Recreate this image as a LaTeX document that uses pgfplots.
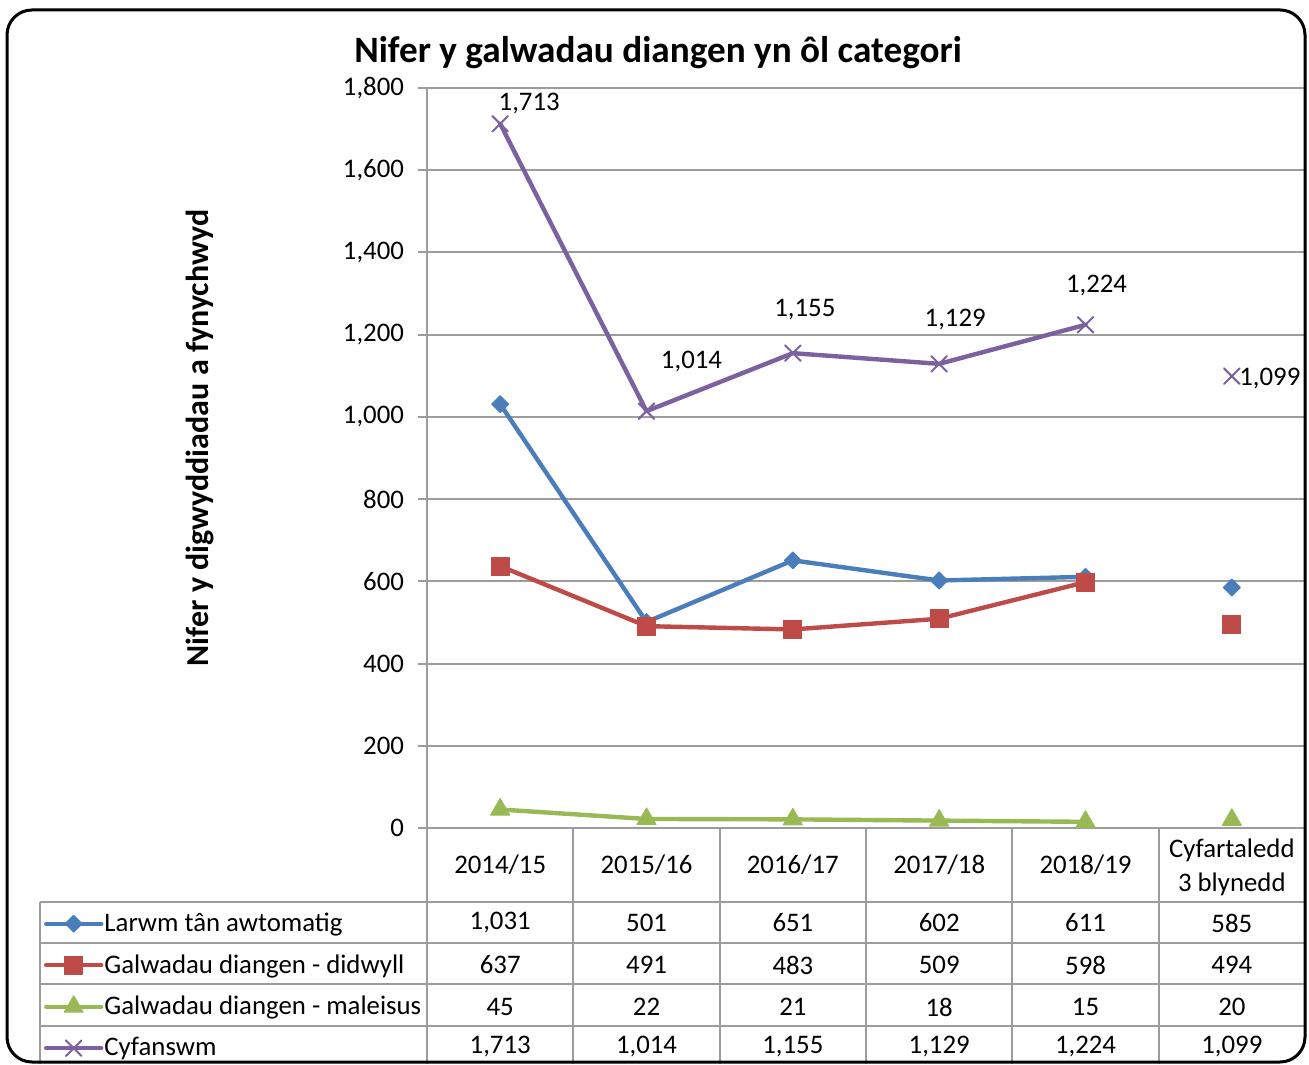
\documentclass[border=0pt]{standalone}
\usepackage{fontspec}
\setmainfont{Carlito}
\usepackage{pgfplots}
\pgfplotsset{compat=1.18}
\definecolor{cblue}{HTML}{4A7EBB}
\definecolor{cred}{HTML}{BE4B48}
\definecolor{cgreen}{HTML}{98B954}
\definecolor{cpurple}{HTML}{7D60A0}
\definecolor{gridgray}{HTML}{9C9C9C}
\newcommand{\tf}{\fontsize{13.4}{17}\selectfont}
\begin{document}
\begin{tikzpicture}[x=0.5pt,y=0.5pt]
\path[use as bounding box] (0,0) rectangle (1309,1064);
\begin{scope}
\clip (0,0) rectangle (1309,1064);
% table lines
\begin{scope}[gridgray, line width=1pt]
\foreach \yy in {162,121,80,38} \draw (40,\yy) -- (1305,\yy);
\draw (40,162) -- (40,0);
\draw (427,236) -- (427,0);
\foreach \xx in {573.3,719.7,866,1012.3,1158.7} \draw (\xx,236) -- (\xx,0);
\end{scope}
\begin{axis}[
  at={(213.5pt,118pt)}, anchor=south west, scale only axis,
  width=439pt, height=370pt,
  xmin=-0.5, xmax=5.5, ymin=0, ymax=1800, ytick distance=200, xtick=\empty,
  axis y line*=left, axis x line*=bottom,
  axis line style={gridgray, line width=1pt, -},
  ymajorgrids, grid style={gridgray, line width=1pt},
  tick style={gridgray, line width=1pt}, major tick length=4.5pt, tick align=outside,
  yticklabel style={font=\tf, xshift=-3.5pt, /pgf/number format/1000 sep={,}},
  /pgf/number format/assume math mode=true,
  clip=false,
  unbounded coords=jump,
  legend cell align=left,
  legend style={at={(-0.4362,-0.1013)}, anchor=north west, draw=none, fill=none,
    inner sep=0pt, outer sep=0pt, row sep=0pt, column sep=0.5pt, font=\tf,
    nodes={inner sep=0pt, minimum height=20.75pt}},
  legend image code/.code={\draw[mark repeat=2,mark phase=2] plot coordinates {(0pt,0pt)(13.75pt,0pt)(27.5pt,0pt)};},
]
\addplot[cblue, line width=2.2pt, line join=round, line cap=round, mark=square*, mark size=3pt, mark options={rotate=45, solid, line width=0.5pt, fill=cblue}]
  coordinates {(0,1031)(1,501)(2,651)(3,602)(4,611)(4.5,nan)(5,585)};
\addlegendentry{Larwm tân awtomatig}
\addplot[cred, line width=2.2pt, line join=round, line cap=round, mark=square*, mark size=4.5pt, mark options={solid, line width=0.5pt, fill=cred}]
  coordinates {(0,637)(1,491)(2,483)(3,509)(4,598)(4.5,nan)(5,494)};
\addlegendentry{Galwadau diangen - didwyll}
\addplot[cgreen, line width=2.2pt, line join=round, line cap=round, mark=triangle*, mark size=5.5pt, mark options={solid, line width=0.5pt, fill=cgreen}]
  coordinates {(0,45)(1,22)(2,21)(3,18)(4,15)(4.5,nan)(5,20)};
\addlegendentry{Galwadau diangen - maleisus}
\addplot[cpurple, line width=2.2pt, line join=round, line cap=round, mark=x, mark size=5.5pt, mark options={solid, line width=1pt}]
  coordinates {(0,1713)(1,1014)(2,1155)(3,1129)(4,1224)(4.5,nan)(5,1099)};
\addlegendentry{Cyfanswm}
\node[font=\tf] at (axis cs:0,1713) [xshift=14.5pt, yshift=10pt] {1,713};
\node[font=\tf] at (axis cs:1,1014) [xshift=22.5pt, yshift=25pt] {1,014};
\node[font=\tf] at (axis cs:2,1155) [xshift=6pt, yshift=22pt] {1,155};
\node[font=\tf] at (axis cs:3,1129) [xshift=8pt, yshift=22pt] {1,129};
\node[font=\tf] at (axis cs:4,1224) [xshift=5.5pt, yshift=19.5pt] {1,224};
\node[font=\tf] at (axis cs:5,1099) [xshift=19pt, yshift=-1pt] {1,099};
\end{axis}
% title and y label
\node[font=\bfseries\fontsize{18.6}{22}\selectfont] at (658,1011) {Nifer y galwadau diangen yn ôl categori};
\node[font=\bfseries\fontsize{16}{19}\selectfont, rotate=90] at (200,626) {Nifer y digwyddiadau a fynychwyd};
% table text
\begin{scope}[font=\tf]
\node at (500.2,199) {2014/15};
\node at (646.5,199) {2015/16};
\node at (792.8,199) {2016/17};
\node at (939.2,199) {2017/18};
\node at (1085.5,199) {2018/19};
\node[align=center, inner sep=0pt] at (1231.8,197) {Cyfartaledd\\3 blynedd};
\foreach \v [count=\i from 0] in {{1,031},{501},{651},{602},{611},{585}} \node at (500.2+146.33*\i,141) {\v};
\foreach \v [count=\i from 0] in {{637},{491},{483},{509},{598},{494}} \node at (500.2+146.33*\i,99) {\v};
\foreach \v [count=\i from 0] in {{45},{22},{21},{18},{15},{20}} \node at (500.2+146.33*\i,57) {\v};
\foreach \v [count=\i from 0] in {{1,713},{1,014},{1,155},{1,129},{1,224},{1,099}} \node at (500.2+146.33*\i,17) {\v};
\end{scope}
% border
\draw[line width=1.5pt, rounded corners=12.5pt] (7,2) rectangle (1305,1054);
\end{scope}
\end{tikzpicture}
\end{document}
